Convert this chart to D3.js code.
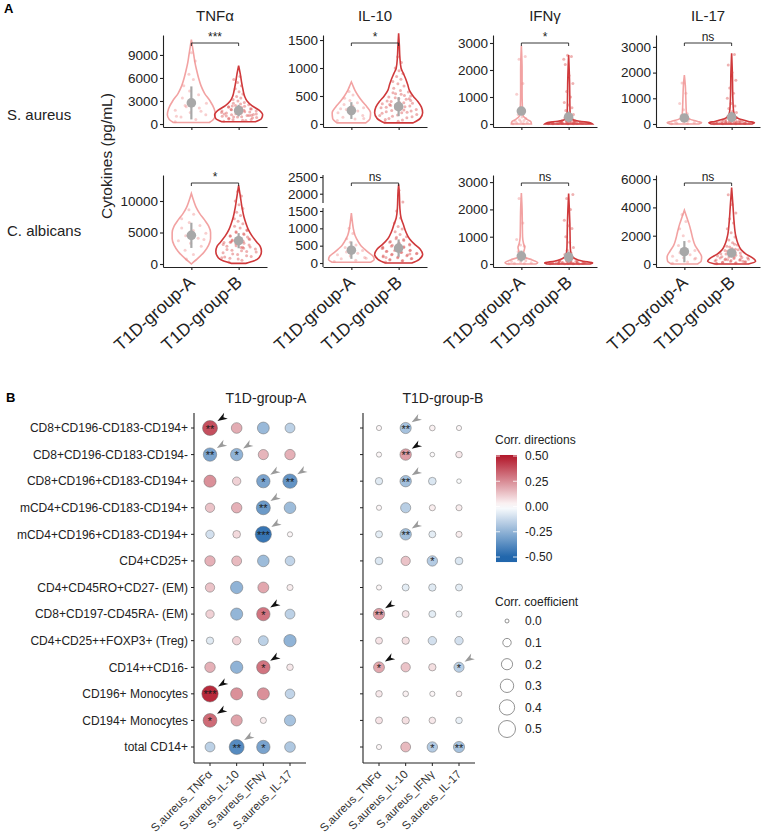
<!DOCTYPE html>
<html>
<head>
<meta charset="utf-8">
<script src="https://cdn.jsdelivr.net/npm/d3@7"></script>
<style>
  body { margin: 0; background: #fff; }
  svg { font-family: "Liberation Sans", Arial, sans-serif; }
</style>
</head>
<body>
<svg id="fig" width="767" height="836"></svg>
<script>
// ---------- Panel A data ----------
const cytokines = ["TNFα", "IL-10", "IFNγ", "IL-17"];
const stimuli = ["S. aureus", "C. albicans"];
const groups = ["T1D-group-A", "T1D-group-B"];

const yTicksSA = [[0, 3000, 6000, 9000], [0, 500, 1000, 1500], [0, 1000, 2000, 3000], [0, 1000, 2000, 3000]];
const yTicksCA = [[0, 5000, 10000], [0, 500, 1000, 1500, 2000, 2500], [0, 1000, 2000, 3000], [0, 2000, 4000, 6000]];
const yLimSA = [[-390, 11600], [-54, 1590], [-111, 3296], [-117, 3463]];
const yLimCA = [[-476, 14127], [-115, 2560], [-110, 3260], [-212, 6290]];
const yBreakSA = [null, null, null, null];
const yBreakCA = [null, [1586, 1722], null, null];
const signifSA = ["***", "*", "*", "ns"];
const signifCA = ["*", "ns", "ns", "ns"];

// mean / sd per cytokine, [group A, group B]
const meanSA = [[2750, 1750], [240, 310], [480, 260], [235, 270]];
const sdSA = [[2150, 750], [150, 170], [150, 200], [150, 200]];
const meanCA = [[4550, 3700], [370, 430], [290, 256], [870, 780]];
const sdCA = [[2000, 1200], [250, 250], [200, 200], [750, 300]];

// violin outlines: [value, relative half-width]
const violinSA = [
  [[[200,0.75],[600,0.92],[1200,1.0],[2000,0.95],[3000,0.78],[4000,0.55],[5000,0.4],[6000,0.3],[7000,0.22],[8000,0.15],[9000,0.1],[10000,0.05],[11000,0]],
   [[300,0.7],[700,0.95],[1200,1.0],[1800,0.85],[2400,0.55],[3000,0.35],[3600,0.25],[4500,0.18],[5500,0.12],[6500,0.07],[7600,0]]],
  [[[20,0.6],[100,0.78],[200,0.8],[300,0.66],[400,0.46],[500,0.29],[600,0.15],[700,0.05],[750,0]],
   [[20,0.6],[100,0.9],[200,1.0],[300,0.95],[400,0.8],[500,0.6],[600,0.45],[700,0.38],[800,0.3],[900,0.2],[1000,0.1],[1200,0.05],[1400,0.03],[1620,0]]],
  [[[0,0.42],[80,0.4],[180,0.22],[300,0.08],[450,0.05],[700,0.04],[1200,0.03],[2000,0.03],[2900,0]],
   [[0,1.0],[50,0.9],[100,0.45],[150,0.2],[250,0.08],[400,0.06],[800,0.05],[1500,0.04],[2550,0]]],
  [[[0,0.6],[50,0.72],[100,0.55],[200,0.2],[300,0.1],[500,0.08],[1000,0.06],[1500,0.04],[1900,0]],
   [[0,0.85],[50,0.95],[100,0.7],[200,0.3],[300,0.15],[500,0.08],[1000,0.05],[2000,0.03],[2750,0]]]
];
const violinCA = [
  [[[0,0],[1000,0.3],[2000,0.55],[3000,0.72],[4000,0.8],[5000,0.8],[6000,0.72],[7000,0.55],[8000,0.35],[9000,0.2],[10000,0.1],[11200,0]],
   [[100,0.3],[500,0.65],[1000,0.85],[2000,0.95],[2800,0.9],[3500,0.75],[4500,0.55],[5500,0.4],[6500,0.3],[7500,0.22],[9000,0.14],[10500,0.08],[12500,0]]],
  [[[20,0.8],[100,0.95],[200,0.9],[300,0.72],[400,0.55],[500,0.4],[600,0.3],[800,0.15],[1000,0.08],[1200,0.04],[1440,0]],
   [[0,0.55],[100,0.85],[250,1.0],[400,0.9],[550,0.65],[700,0.45],[900,0.3],[1100,0.2],[1300,0.1],[1600,0.05],[2000,0.03],[2280,0]]],
  [[[0,0.6],[50,0.68],[150,0.45],[250,0.15],[400,0.09],[600,0.14],[750,0.09],[1000,0.05],[1500,0.04],[2000,0.03],[2600,0]],
   [[0,0.9],[40,1.0],[100,0.6],[200,0.25],[350,0.1],[600,0.07],[1000,0.06],[1500,0.05],[2000,0.03],[2580,0]]],
  [[[0,0.55],[200,0.7],[500,0.72],[900,0.6],[1300,0.45],[1800,0.35],[2300,0.28],[2800,0.2],[3300,0.1],[3800,0]],
   [[0,0.7],[200,1.0],[400,0.9],[700,0.6],[1000,0.4],[1500,0.25],[2000,0.17],[3000,0.1],[4000,0.06],[5400,0]]]
];

// individual donors (pg/mL)
const pointsSA = [
  [[300,600,900,1200,1500,1800,2100,2400,2700,3000,3400,3800,4300,5000,5800,6500,8200,9300,1000,1650,2250],
   [350,500,650,800,900,1000,1100,1200,1300,1400,1450,1550,1650,1700,1800,1900,2000,2100,2200,2300,2400,2500,2600,2700,2800,3000,3200,3400,3600,3900,4200,4600,5000,5400,5800,6200,750,1250,1750,2250,
    450,550,850,950,1050,1150,1350,1500,1600,1850,1950,2050,1300,1100,900,1700,2150,2350,600,1400]],
  [[60,90,120,150,180,200,230,260,290,320,350,380,420,460,520,580,100,210,270],
   [40,70,100,130,160,190,210,240,260,280,300,320,340,360,380,400,420,450,480,510,540,570,600,640,680,720,760,800,850,900,950,1000,1100,1200,150,250,350,450,
    50,80,110,140,170,200,220,230,270,290,310,330,370,390,410,440,470,500,530,560]],
  [[10,20,40,60,80,100,130,160,200,260,350,450,600,1100,1500,2400,2500],
   [5,10,15,20,25,30,40,50,60,70,80,90,100,120,140,160,180,200,230,260,300,350,400,500,600,700,800,1000,1200,1500,1800,2200,2500,2550,2400,45,55,65,
    8,12,18,22,28,33,38,42,48,52,58,62,68,75,85,95,110,130,150,190]],
  [[10,20,40,60,80,100,130,160,200,250,320,400,550,800,1200,1600],
   [5,10,20,30,40,50,60,70,80,90,100,120,140,160,180,200,230,260,300,350,400,450,500,600,700,800,1000,1200,1400,1700,2000,2300,2700,35,45,55,
    8,15,25,32,38,42,48,52,58,65,75,85,95,110,130,150,170,190,220,250]]
];
const pointsCA = [
  [[800,1500,2200,2800,3300,3700,4100,4500,4900,5300,5700,6100,6600,7200,7900,8600,3900,5100],
   [300,600,900,1200,1500,1800,2000,2200,2400,2600,2800,3000,3200,3400,3600,3800,4000,4200,4500,4800,5100,5400,5700,6000,6400,6800,7200,7700,8200,8800,9400,10000,10800,11500,1000,2500,3500,4300,
    800,1100,1300,1600,1900,2100,2300,2700,2900,3100,3300,3700,3900,4100,4400,4700,5000,5300,2650,3450]],
  [[40,80,120,160,200,240,280,320,360,400,450,520,600,700,850,1000,140,300],
   [30,60,90,120,150,180,210,240,270,300,330,360,390,420,450,480,520,560,600,650,700,760,820,900,980,1050,1150,1300,1500,1750,2100,160,260,360,460,
    70,100,130,170,200,230,250,280,310,340,370,400,430,470,510,540,580,620,680,740]],
  [[10,20,30,50,70,90,120,160,220,300,450,650,700,900,1500,2400],
   [5,10,15,20,25,30,40,50,60,70,80,100,120,140,170,200,250,300,350,400,500,600,800,1000,1300,1400,1600,2000,2400,2550,45,55,
    8,12,18,22,28,33,38,42,48,52,58,65,75,90,110,130,160,190,220,280]],
  [[50,150,250,350,450,550,650,800,950,1100,1300,1600,2000,2500,3000,3500,400,700],
   [20,60,100,140,180,220,260,300,340,380,420,460,500,560,620,700,780,860,950,1050,1200,1350,1500,1700,1900,2200,2500,2900,3200,3600,4200,4900,200,300,
    40,80,120,160,240,280,320,360,440,480,520,580,640,720,800,900,1000,1100,1250,1400]]
];

// ---------- Panel B data ----------
const corrRows = [
  "CD8+CD196-CD183-CD194+", "CD8+CD196-CD183-CD194-", "CD8+CD196+CD183-CD194+",
  "mCD4+CD196-CD183-CD194+", "mCD4+CD196+CD183-CD194+", "CD4+CD25+",
  "CD4+CD45RO+CD27- (EM)", "CD8+CD197-CD45RA- (EM)", "CD4+CD25++FOXP3+ (Treg)",
  "CD14++CD16-", "CD196+ Monocytes", "CD194+ Monocytes", "total CD14+"
];
const corrCols = ["S.aureus_TNFα", "S.aureus_IL-10", "S.aureus_IFNγ", "S.aureus_IL-17"];
const corrGroups = ["T1D-group-A", "T1D-group-B"];

const corrA = [
  [0.38, 0.18, -0.23, -0.15],
  [-0.30, -0.25, 0.16, 0.17],
  [0.24, 0.10, -0.30, -0.35],
  [0.13, 0.17, -0.33, -0.22],
  [-0.10, 0.08, -0.45, 0.02],
  [0.17, 0.15, -0.22, -0.14],
  [0.13, -0.25, 0.19, 0.04],
  [0.10, -0.24, 0.30, -0.15],
  [-0.07, 0.10, -0.15, -0.25],
  [0.17, -0.25, 0.30, 0.05],
  [0.46, 0.24, 0.24, -0.14],
  [0.32, 0.20, 0.04, -0.20],
  [-0.15, -0.38, -0.30, -0.18]
];
const corrB = [
  [0.02, -0.20, 0.03, 0.02],
  [0.02, 0.21, 0.01, 0.05],
  [-0.07, -0.21, -0.08, -0.01],
  [0.02, -0.16, 0.04, 0.04],
  [-0.06, -0.21, -0.06, 0.04],
  [-0.08, 0.13, -0.17, -0.08],
  [0.02, -0.06, -0.07, -0.06],
  [0.21, 0.06, -0.06, -0.04],
  [0.06, 0.07, -0.10, -0.10],
  [0.19, 0.13, 0.07, -0.16],
  [0.05, 0.03, 0.02, 0.03],
  [0.06, 0.07, 0.05, -0.05],
  [0.02, 0.15, -0.17, -0.20]
];
const sigA = [
  ["**", "", "", ""], ["**", "*", "", ""], ["", "", "*", "**"], ["", "", "**", ""],
  ["", "", "***", ""], ["", "", "", ""], ["", "", "", ""], ["", "", "*", ""],
  ["", "", "", ""], ["", "", "*", ""], ["***", "", "", ""], ["*", "", "", ""], ["", "**", "*", ""]
];
const sigB = [
  ["", "**", "", ""], ["", "**", "", ""], ["", "**", "", ""], ["", "", "", ""],
  ["", "**", "", ""], ["", "", "*", ""], ["", "", "", ""], ["**", "", "", ""],
  ["", "", "", ""], ["*", "", "", "*"], ["", "", "", ""], ["", "", "", ""], ["", "", "*", "**"]
];
// arrow marks: k = black, g = grey
const arrowA = [
  ["k", "", "", ""], ["g", "g", "", ""], ["", "", "g", "g"], ["", "", "g", ""],
  ["", "", "g", ""], ["", "", "", ""], ["", "", "", ""], ["", "", "k", ""],
  ["", "", "", ""], ["", "", "k", ""], ["k", "", "", ""], ["k", "", "", ""], ["", "g", "", ""]
];
const arrowB = [
  ["", "g", "", ""], ["", "k", "", ""], ["", "g", "", ""], ["", "", "", ""],
  ["", "g", "", ""], ["", "", "", ""], ["", "", "", ""], ["k", "", "", ""],
  ["", "", "", ""], ["k", "", "", "g"], ["", "", "", ""], ["", "", "", ""], ["", "", "", ""]
];
const colorBreaks = [0.5, 0.25, 0, -0.25, -0.5];
const sizeBreaks = [0, 0.1, 0.2, 0.3, 0.4, 0.5];

// ---------- drawing ----------
const svg = d3.select("#fig");
const font = "'Liberation Sans', Arial, sans-serif";
const colA = "#F2A2A2", colB = "#CF393B", meanCol = "#A8A8A8";
const hyphen = s => s.replace("\u2212", "-");

svg.append("text").attr("x", 4).attr("y", 13).attr("font-weight", "bold").attr("font-size", 13).text("A");
svg.append("text").attr("x", 6).attr("y", 402).attr("font-weight", "bold").attr("font-size", 13).text("B");

const panelX = [163, 323, 493, 656], panelW = 104;
const rowTop = [35, 175], rowBot = [127, 267];
const stimRows = [
  { ticks: yTicksSA, lim: yLimSA, brk: yBreakSA, sig: signifSA, mean: meanSA, sd: sdSA, vio: violinSA, pts: pointsSA, labelY: 120 },
  { ticks: yTicksCA, lim: yLimCA, brk: yBreakCA, sig: signifCA, mean: meanCA, sd: sdCA, vio: violinCA, pts: pointsCA, labelY: 236 }
];

const vw = d3.scaleLinear().domain([0, 1]).range([0, 24]);

// column titles
cytokines.forEach((c, i) => {
  svg.append("text")
    .attr("x", panelX[i] + panelW / 2).attr("y", 21)
    .attr("text-anchor", "middle").attr("font-size", 15).attr("fill", "#222")
    .text(c);
});

// y title
svg.append("text")
  .attr("transform", "translate(112,156) rotate(-90)")
  .attr("text-anchor", "middle").attr("font-size", 15.5).attr("fill", "#222")
  .text("Cytokines (pg/mL)");

stimRows.forEach((s, r) => {
  svg.append("text").attr("x", 7).attr("y", s.labelY)
    .attr("font-size", 15).attr("fill", "#222").text(stimuli[r]);

  cytokines.forEach((cyt, c) => {
    const x0 = panelX[c], yb = rowBot[r], yt = rowTop[r];
    const [lo, hi] = s.lim[c];
    const y = d3.scaleLinear();
    if (s.brk[c]) y.domain([lo, s.brk[c][0], s.brk[c][1], hi]).range([yb, yb - 59, yb - 64, yt]);
    else y.domain([lo, hi]).range([yb, yt]);
    const x = d3.scalePoint().domain(groups).range([x0, x0 + panelW]).padding(0.6);
    const g = svg.append("g");

    groups.forEach((grp, k) => {
      const prof = s.vio[c][k];
      const cx = x(grp);
      const col = k ? colB : colA;
      const area = d3.area().curve(d3.curveMonotoneY)
        .y(d => y(d[0]))
        .x0(d => cx - vw(d[1]))
        .x1(d => cx + vw(d[1]));
      g.append("path").attr("d", area(prof))
        .attr("fill", "none").attr("stroke", col).attr("stroke-width", 1.6);

      // points jittered inside the violin
      const widthAt = d3.scaleLinear().domain(prof.map(p => p[0])).range(prof.map(p => p[1])).clamp(true);
      g.append("g").selectAll("circle")
        .data(s.pts[c][k])
        .join("circle")
        .attr("cx", (v, i) => cx + (((i * 0.6180339887) % 1) * 2 - 1) * Math.max(vw(widthAt(v)) * 0.85, 5))
        .attr("cy", v => y(v))
        .attr("r", 1.5)
        .attr("fill", k ? "#D84848" : "#EE8C8C")
        .attr("opacity", 0.42);

      // mean +/- sd
      const m = s.mean[c][k], sd = s.sd[c][k];
      g.append("line")
        .attr("x1", cx).attr("x2", cx)
        .attr("y1", y(Math.max(m - sd, lo))).attr("y2", y(m + sd))
        .attr("stroke", meanCol).attr("stroke-width", 2.2);
      g.append("circle").attr("cx", cx).attr("cy", y(m)).attr("r", 4.8).attr("fill", meanCol);
    });

    // significance bracket
    const by = yt + 8;
    const xa = x(groups[0]), xb = x(groups[1]);
    g.append("path")
      .attr("d", `M${xa},${by + 3}V${by}H${xb}V${by + 3}`)
      .attr("fill", "none").attr("stroke", "#222").attr("stroke-width", 0.9);
    g.append("text")
      .attr("x", (xa + xb) / 2).attr("y", by - 2)
      .attr("text-anchor", "middle").attr("font-size", 12).attr("fill", "#222")
      .text(s.sig[c]);

    // y axis
    const yAxis = g.append("g")
      .attr("transform", `translate(${x0},0)`)
      .call(d3.axisLeft(y).tickValues(s.ticks[c]).tickFormat(d3.format("d")).tickSize(3).tickSizeOuter(0).tickPadding(2))
      .attr("font-family", font).attr("font-size", 13.5);
    yAxis.selectAll("text").attr("fill", "#222");
    yAxis.selectAll("line,path").attr("stroke", "#222").attr("stroke-width", 1.1);
    if (s.brk[c]) {
      yAxis.select(".domain").remove();
      yAxis.append("line").attr("y1", yb).attr("y2", yb - 59).attr("stroke", "#222").attr("stroke-width", 1.1);
      yAxis.append("line").attr("y1", yb - 64).attr("y2", yt).attr("stroke", "#222").attr("stroke-width", 1.1);
    }

    // x axis
    const xAxis = g.append("g")
      .attr("transform", `translate(0,${yb})`)
      .call(d3.axisBottom(x).tickSize(3).tickSizeOuter(0).tickFormat(r ? d => d : () => ""))
      .attr("font-family", font).attr("font-size", 17.5);
    xAxis.selectAll("line,path").attr("stroke", "#222").attr("stroke-width", 1.1);
    xAxis.selectAll("text")
      .attr("x", 0).attr("y", 0).attr("dy", 0)
      .attr("transform", "translate(4,17) rotate(-42)")
      .attr("text-anchor", "end").attr("fill", "#222");
  });
});

// ---------- Panel B ----------
const fillScale = d3.scaleLinear().domain([-0.5, 0, 0.5]).range(["#2166AC", "#FFFFFF", "#B2182B"]).clamp(true);
const rScale = d3.scaleRadial().domain([0, 0.5]).range([2, 8.5]);
const rowY = d3.scalePoint().domain(corrRows).range([428, 747]);
const hmAxisX = [194, 363];
const hmColRange = [[210, 290], [379, 459]];
const hmTitleX = [266, 443];
const hmTop = 413, hmBot = 763;
const corrData = [corrA, corrB], sigData = [sigA, sigB], arrowData = [arrowA, arrowB];

corrGroups.forEach((grp, p) => {
  const colX = d3.scalePoint().domain(corrCols).range(hmColRange[p]);
  const ax = hmAxisX[p];
  const right = hmColRange[p][1] + 16;
  const g = svg.append("g");

  g.append("text")
    .attr("x", hmTitleX[p]).attr("y", 403)
    .attr("text-anchor", "middle").attr("font-size", 14).attr("fill", "#222")
    .text(grp);

  // axes
  g.append("line").attr("x1", ax).attr("x2", ax).attr("y1", hmTop).attr("y2", hmBot)
    .attr("stroke", "#222").attr("stroke-width", 1.1);
  g.append("line").attr("x1", ax).attr("x2", right).attr("y1", hmBot).attr("y2", hmBot)
    .attr("stroke", "#222").attr("stroke-width", 1.1);
  g.selectAll(".ytick").data(corrRows).join("line")
    .attr("x1", ax - 3).attr("x2", ax).attr("y1", d => rowY(d)).attr("y2", d => rowY(d))
    .attr("stroke", "#222").attr("stroke-width", 1);
  g.selectAll(".xtick").data(corrCols).join("line")
    .attr("x1", d => colX(d)).attr("x2", d => colX(d)).attr("y1", hmBot).attr("y2", hmBot + 3)
    .attr("stroke", "#222").attr("stroke-width", 1);

  if (p === 0) {
    g.selectAll(".rowlab").data(corrRows).join("text")
      .attr("x", ax - 6).attr("y", d => rowY(d)).attr("dy", "0.36em")
      .attr("text-anchor", "end").attr("font-size", 12).attr("fill", "#222")
      .text(d => d);
  }
  g.selectAll(".collab").data(corrCols).join("text")
    .attr("transform", d => `translate(${colX(d) + 3},${hmBot + 12}) rotate(-45)`)
    .attr("text-anchor", "end").attr("font-size", 11.5).attr("fill", "#333")
    .text(d => d);

  // cells
  const cells = [];
  corrRows.forEach((rw, i) => corrCols.forEach((cl, j) => cells.push({
    row: rw, col: cl, v: corrData[p][i][j], sig: sigData[p][i][j], arrow: arrowData[p][i][j]
  })));

  g.selectAll(".cell").data(cells).join("circle")
    .attr("cx", d => colX(d.col)).attr("cy", d => rowY(d.row))
    .attr("r", d => rScale(Math.abs(d.v)))
    .attr("fill", d => fillScale(d.v))
    .attr("stroke", "#6a6a6a").attr("stroke-width", 0.5);

  g.selectAll(".star").data(cells.filter(d => d.sig)).join("text")
    .attr("x", d => colX(d.col)).attr("y", d => rowY(d.row) + 4.5)
    .attr("text-anchor", "middle").attr("font-size", 11).attr("fill", "#1a1a1a")
    .text(d => d.sig);

  g.selectAll(".arrow").data(cells.filter(d => d.arrow)).join("path")
    .attr("d", "M0,0L10,-3.5L7,0L10,3.5Z")
    .attr("transform", d => {
      const r = rScale(Math.abs(d.v));
      return `translate(${colX(d.col) + r * 0.8 + 1.5},${rowY(d.row) - r * 0.6 - 2.5}) rotate(-32)`;
    })
    .attr("fill", d => d.arrow === "k" ? "#111" : "#9a9a9a");
});

// colour legend
const lg = svg.append("g");
lg.append("text").attr("x", 495).attr("y", 444).attr("font-size", 12).attr("fill", "#222").text("Corr. directions");
const ly = d3.scaleLinear().domain([-0.5, 0.5]).range([557, 456]);
const grad = svg.append("defs").append("linearGradient")
  .attr("id", "cbar").attr("x1", 0).attr("x2", 0).attr("y1", 0).attr("y2", 1);
d3.range(0, 1.0001, 0.05).forEach(t => {
  const v = 0.51 - t * 1.06;
  grad.append("stop").attr("offset", t).attr("stop-color", fillScale(v));
});
lg.append("rect").attr("x", 496).attr("y", ly(0.51)).attr("width", 21).attr("height", ly(-0.55) - ly(0.51))
  .attr("fill", "url(#cbar)");
colorBreaks.forEach(b => {
  lg.append("line").attr("x1", 496).attr("x2", 500).attr("y1", ly(b)).attr("y2", ly(b)).attr("stroke", "#fff").attr("stroke-width", 0.8);
  lg.append("line").attr("x1", 513).attr("x2", 517).attr("y1", ly(b)).attr("y2", ly(b)).attr("stroke", "#fff").attr("stroke-width", 0.8);
  lg.append("text").attr("x", 525).attr("y", ly(b)).attr("dy", "0.36em")
    .attr("font-size", 12).attr("fill", "#222").text(hyphen(d3.format(".2f")(b)));
});

// size legend
lg.append("text").attr("x", 495).attr("y", 606).attr("font-size", 12).attr("fill", "#222").text("Corr. coefficient");
const sy = d3.scalePoint().domain(sizeBreaks).range([621, 729]);
sizeBreaks.forEach(b => {
  lg.append("circle").attr("cx", 507).attr("cy", sy(b)).attr("r", rScale(b))
    .attr("fill", "#fff").attr("stroke", "#777").attr("stroke-width", 0.8);
  lg.append("text").attr("x", 525).attr("y", sy(b)).attr("dy", "0.36em")
    .attr("font-size", 12).attr("fill", "#222").text(d3.format(".1f")(b));
});
</script>
</body>
</html>
